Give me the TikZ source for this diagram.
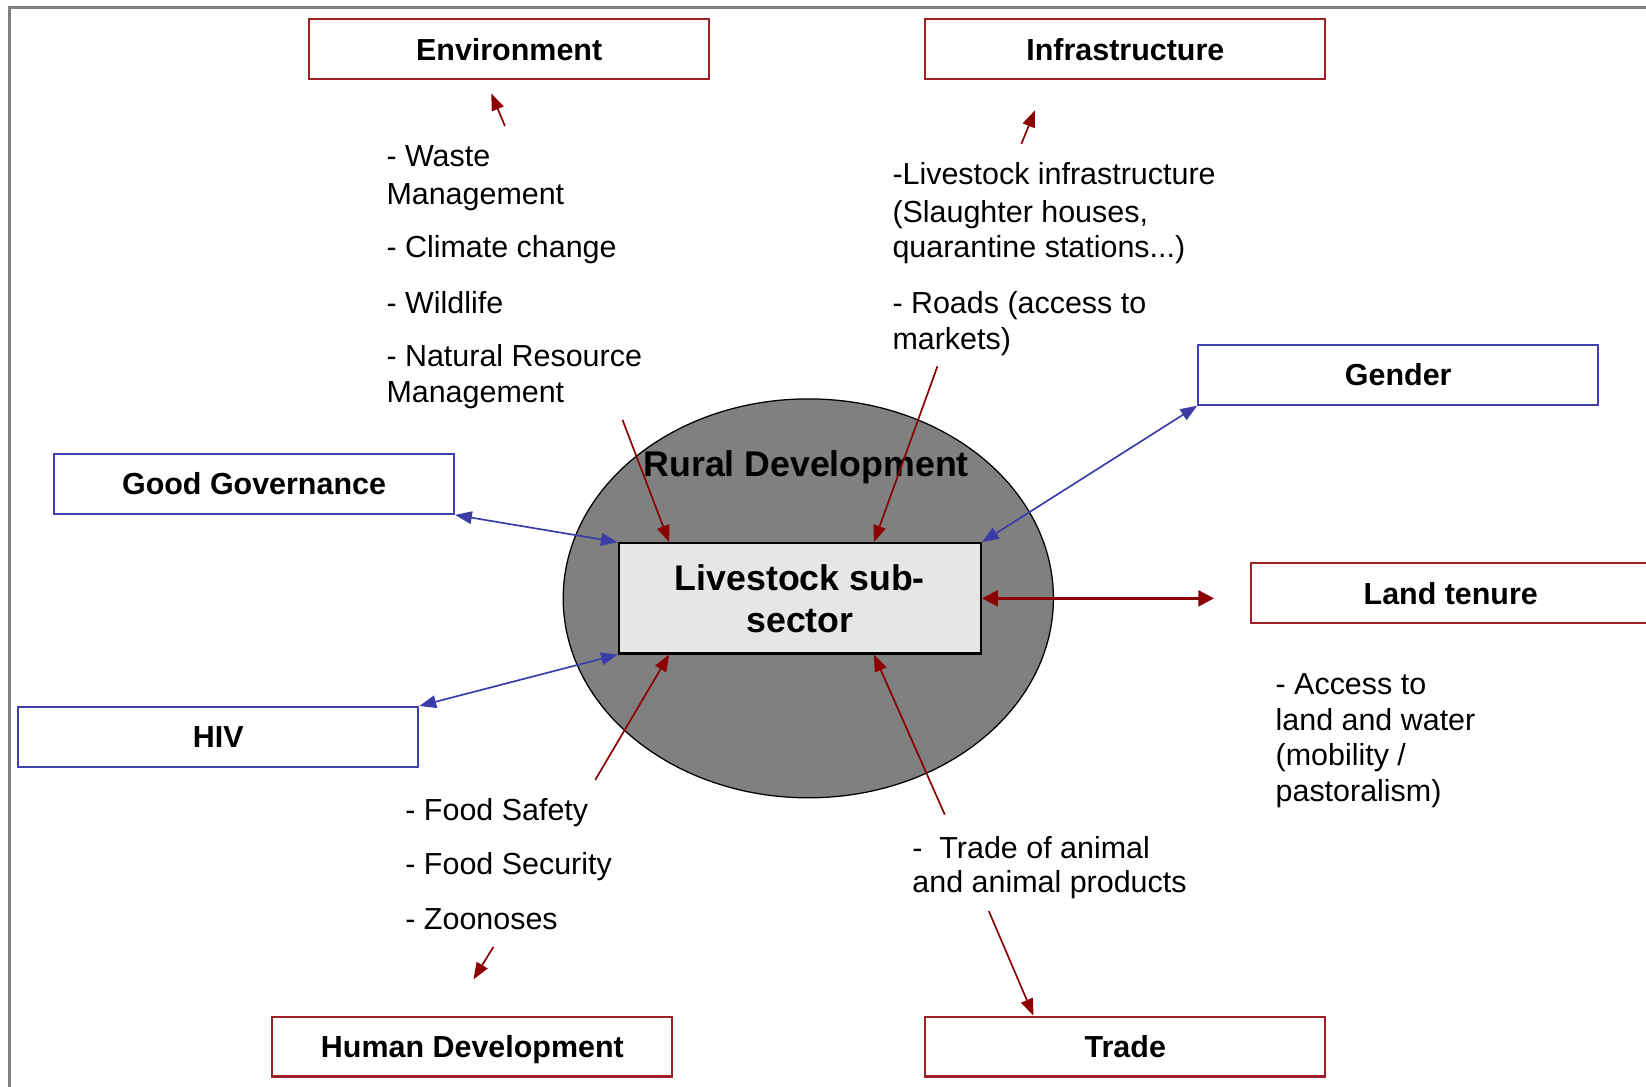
\documentclass[tikz,border=0pt]{standalone}
\usepackage{fontspec}
\setmainfont{Liberation Sans}
\usetikzlibrary{shapes.geometric,arrows.meta}

\definecolor{boxred}{RGB}{158,32,40}
\definecolor{linered}{RGB}{140,0,0}
\definecolor{boxblue}{RGB}{64,64,176}
\definecolor{lineblue}{RGB}{60,60,168}
\definecolor{ringgray}{RGB}{128,128,128}
\definecolor{coregray}{RGB}{230,230,230}

\tikzset{
  topic/.style={draw, line width=2pt, fill=white, minimum width=381pt, minimum height=57pt,
    inner sep=0pt, text height=21pt, text depth=0pt, font=\fontsize{29}{35}\selectfont\bfseries},
  redbox/.style={topic, draw=boxred},
  bluebox/.style={topic, draw=boxblue},
  listline/.style={anchor=west, inner sep=0pt, text height=22pt, text depth=1pt,
    font=\fontsize{29}{35}\selectfont},
  redarrow/.style={linered, line width=1.6pt, -{Triangle[length=16pt,width=12pt]}},
  redlink/.style={linered, line width=3pt, {Triangle[length=15pt,width=15pt]}-{Triangle[length=15pt,width=15pt]}},
  bluelink/.style={lineblue, line width=1.6pt, {Triangle[length=16pt,width=12pt]}-{Triangle[length=16pt,width=12pt]}}
}

\begin{document}
\begin{tikzpicture}[x=1pt, y=-1pt]
    \useasboundingbox (0,0) rectangle (1568,1035);
    \clip (0,0) rectangle (1568,1035);
    \draw [ringgray, line width=2.5pt] (9,1040) -- (9,7) -- (1575,7);

    % the ring and the sub-sector
    \node[ellipse, draw, line width=1.2pt, fill=ringgray, minimum width=467pt, minimum height=380pt, inner sep=0pt] (rd) at (770,570) {};
    \node[inner sep=0pt, font=\fontsize{34}{40}\selectfont\bfseries] (rdlabel) at (768,445) {Rural Development};
    \node[draw, line width=2pt, fill=coregray, minimum width=345pt, minimum height=105pt, align=center,
      font=\fontsize{34}{40}\selectfont\bfseries] (core) at (762,570) {Livestock sub-\\sector};

    % topics
    \node[redbox] (env) at (485,47) {Environment};
    \node[redbox] (inf) at (1072,47) {Infrastructure};
    \node[bluebox] (gen) at (1332,357) {Gender};
    \node[bluebox] (gov) at (242,461) {Good Governance};
    \node[redbox] (land) at (1382,565) {Land tenure};
    \node[bluebox] (hiv) at (208,702) {HIV};
    \node[redbox] (hum) at (450,997) {Human Development};
    \node[redbox] (trd) at (1072,997) {Trade};

    % lists
    \foreach \y/\t [count=\i] in {148/- Waste, 184/Management, 235/- Climate change, 288/- Wildlife, 339/- Natural Resource, 373/Management} {
        \node[listline] (envitem\i) at (368,\y) {\t};
    }
    \foreach \y/\t [count=\i] in {165/-Livestock infrastructure, 201/{(Slaughter houses,}, 235/{quarantine stations...)}, 288/- Roads (access to, 322/markets)} {
        \node[listline] (infitem\i) at (850,\y) {\t};
    }
    \foreach \y/\t [count=\i] in {651/- Access to, 685/land and water, 719/{(mobility /}, 753/pastoralism)} {
        \node[listline] (landitem\i) at (1215,\y) {\t};
    }
    \foreach \y/\t [count=\i] in {771/- Food Safety, 823/- Food Security, 875/- Zoonoses} {
        \node[listline] (humitem\i) at (386,\y) {\t};
    }
    \foreach \y/\t [count=\i] in {807/-\ \ Trade of animal, 840/and animal products} {
        \node[listline] (trditem\i) at (869,\y) {\t};
    }

    % arrows out to the topics
    \coordinate (envtail) at (481,120);
    \coordinate (envtip) at (468,89);
    \coordinate (inftail) at (973,137);
    \coordinate (inftip) at (986,105);
    \coordinate (humtail) at (470,902);
    \coordinate (humtip) at (451,933);
    \coordinate (trdtail) at (942,868);
    \draw [redarrow] (envtail) -- (envtip);
    \draw [redarrow] (inftail) -- (inftip);
    \draw [redarrow] (humtail) -- (humtip);
    \draw [redarrow] (trdtail) -- ([xshift=104pt]trd.north west);

    % arrows into the sub-sector
    \coordinate (envfrom) at (593,400);
    \coordinate (inffrom) at (893,349);
    \coordinate (humfrom) at (567,743);
    \coordinate (trdfrom) at (900,776);
    \draw [redarrow] (envfrom) -- ([xshift=49pt]core.north west);
    \draw [redarrow] (inffrom) -- ([xshift=-103pt]core.north east);
    \draw [redarrow] (humfrom) -- ([xshift=49pt]core.south west);
    \draw [redarrow] (trdfrom) -- ([xshift=-103pt]core.south east);

    % two-way links
    \draw [bluelink] (gov.south east) -- (core.north west);
    \draw [bluelink] (hiv.north east) -- (core.south west);
    \draw [bluelink] (gen.south west) -- (core.north east);
    \draw [redlink, shorten >=34pt] (core.east) -- (core.east -| land.west);
\end{tikzpicture}
\end{document}
